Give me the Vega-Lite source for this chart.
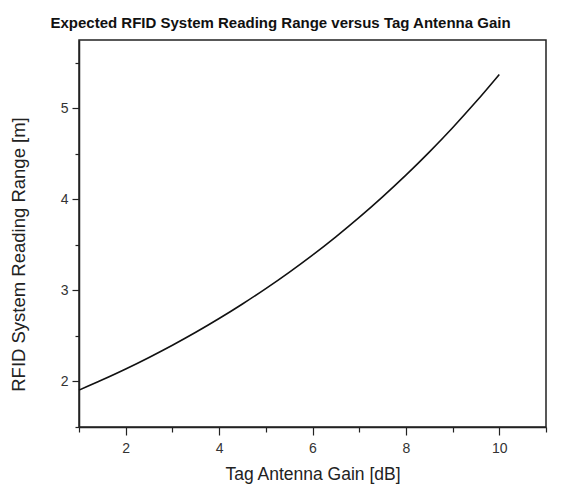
{
  "$schema": "https://vega.github.io/schema/vega-lite/v6.json",
  "autosize": {"type": "none"},
  "padding": {"left": 79, "top": 40, "right": 22, "bottom": 62},
  "width": 467,
  "height": 387,
  "background": "white",
  "title": {
    "text": "Expected RFID System Reading Range versus Tag Antenna Gain",
    "font": "Liberation Sans",
    "fontSize": 15,
    "fontWeight": "bold",
    "color": "#111111",
    "anchor": "middle",
    "baseline": "alphabetic",
    "offset": -3,
    "dx": -32
  },
  "config": {
    "view": {"stroke": "#222222", "strokeWidth": 1.5},
    "axis": {
      "grid": false,
      "domainColor": "#222222",
      "domainWidth": 1.5,
      "tickColor": "#222222",
      "tickWidth": 1.2,
      "labelFont": "Liberation Sans",
      "labelFontSize": 14,
      "labelColor": "#333333",
      "titleFont": "Liberation Sans",
      "titleFontWeight": "normal",
      "titleColor": "#222222"
    }
  },
  "data": {
    "values": [
      {"gain": 1.0, "range": 1.905},
      {"gain": 1.5, "range": 2.018},
      {"gain": 2.0, "range": 2.137},
      {"gain": 2.5, "range": 2.264},
      {"gain": 3.0, "range": 2.398},
      {"gain": 3.5, "range": 2.540},
      {"gain": 4.0, "range": 2.691},
      {"gain": 4.5, "range": 2.851},
      {"gain": 5.0, "range": 3.020},
      {"gain": 5.5, "range": 3.199},
      {"gain": 6.0, "range": 3.388},
      {"gain": 6.5, "range": 3.589},
      {"gain": 7.0, "range": 3.802},
      {"gain": 7.5, "range": 4.028},
      {"gain": 8.0, "range": 4.266},
      {"gain": 8.5, "range": 4.519},
      {"gain": 9.0, "range": 4.787},
      {"gain": 9.5, "range": 5.071},
      {"gain": 10.0, "range": 5.372}
    ]
  },
  "mark": {"type": "line", "color": "#111111", "strokeWidth": 1.6, "interpolate": "monotone"},
  "encoding": {
    "x": {
      "field": "gain",
      "type": "quantitative",
      "scale": {"domain": [1, 11], "nice": false, "zero": false},
      "axis": {
        "title": "Tag Antenna Gain [dB]",
        "titleFontSize": 17.5,
        "values": [1, 2, 3, 4, 5, 6, 7, 8, 9, 10, 11],
        "format": "~g",
        "labelExpr": "datum.value % 2 === 0 && datum.value < 11 ? datum.label : ''",
        "tickSize": {"condition": {"test": "datum.value % 2 === 0", "value": 8}, "value": 5},
        "labelPadding": 6,
        "titlePadding": 10,
        "labelFlush": false,
        "labelOverlap": false
      }
    },
    "y": {
      "field": "range",
      "type": "quantitative",
      "scale": {"domain": [1.5, 5.75], "nice": false, "zero": false},
      "axis": {
        "title": "RFID System Reading Range [m]",
        "titleFontSize": 18.5,
        "values": [1.5, 2, 2.5, 3, 3.5, 4, 4.5, 5, 5.5],
        "format": "~g",
        "labelExpr": "datum.value % 1 === 0 ? datum.label : ''",
        "tickSize": {"condition": {"test": "datum.value % 1 === 0", "value": 7}, "value": 4},
        "labelPadding": 4,
        "titleX": -51,
        "titleY": 214,
        "titleBaseline": "bottom",
        "labelFlush": false,
        "labelOverlap": false
      }
    }
  }
}
